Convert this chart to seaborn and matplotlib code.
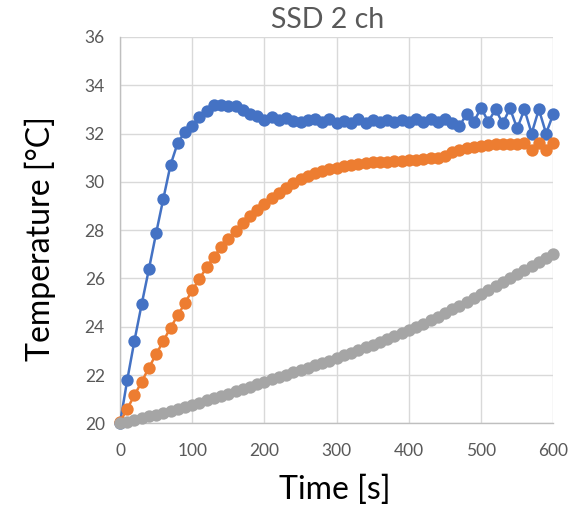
import numpy as np
import pandas as pd
import matplotlib
matplotlib.use("Agg")
import matplotlib.pyplot as plt
import seaborn as sns

time_s = list(range(0, 601, 10))

ch_blue = [20.00, 21.79, 23.42, 24.93, 26.38, 27.87, 29.30, 30.70, 31.62, 32.07,
           32.32, 32.68, 32.93, 33.18, 33.18, 33.14, 33.14, 32.98, 32.82, 32.72,
           32.57, 32.68, 32.56, 32.66, 32.53, 32.49, 32.55, 32.58, 32.46, 32.58,
           32.43, 32.53, 32.43, 32.58, 32.44, 32.55, 32.47, 32.57, 32.47, 32.57,
           32.47, 32.58, 32.48, 32.58, 32.48, 32.58, 32.42, 32.30, 32.81, 32.49,
           33.06, 32.49, 33.00, 32.42, 33.04, 32.21, 33.00, 32.00, 33.00, 32.00,
           32.81]

ch_orange = [20.05, 20.60, 21.16, 21.72, 22.30, 22.86, 23.41, 23.96, 24.47, 24.98,
             25.51, 25.98, 26.46, 26.89, 27.30, 27.64, 27.98, 28.31, 28.60, 28.85,
             29.08, 29.33, 29.55, 29.75, 29.93, 30.10, 30.23, 30.35, 30.43, 30.51,
             30.59, 30.65, 30.70, 30.74, 30.77, 30.80, 30.82, 30.84, 30.86, 30.88,
             30.90, 30.92, 30.95, 30.97, 31.00, 31.05, 31.25, 31.33, 31.40, 31.45,
             31.50, 31.53, 31.55, 31.57, 31.58, 31.55, 31.60, 31.30, 31.60, 31.30,
             31.60]

ch_gray = [20.00, 20.07, 20.14, 20.21, 20.29, 20.36, 20.44, 20.52, 20.60, 20.68,
           20.77, 20.86, 20.95, 21.04, 21.13, 21.23, 21.33, 21.42, 21.52, 21.62,
           21.72, 21.82, 21.91, 22.01, 22.11, 22.21, 22.30, 22.40, 22.50, 22.60,
           22.70, 22.81, 22.92, 23.03, 23.14, 23.26, 23.37, 23.49, 23.61, 23.73,
           23.86, 23.99, 24.13, 24.27, 24.42, 24.57, 24.72, 24.87, 25.03, 25.19,
           25.35, 25.51, 25.67, 25.84, 26.00, 26.17, 26.34, 26.50, 26.67, 26.83,
           27.00]

x_ticks = [0, 100, 200, 300, 400, 500, 600]
y_ticks = [20, 22, 24, 26, 28, 30, 32, 34, 36]

title = "SSD 2 ch"
x_label = "Time [s]"
y_label = "Temperature [°C]"

sns.set_style("white")
plt.rcParams['font.family'] = ['Lato', 'DejaVu Sans']

fig = plt.figure(figsize=(5.87, 5.15), dpi=100)
ax = fig.add_axes([120 / 587, 1 - 423.3 / 515, 433.3 / 587, 386.4 / 515])

series = [(ch_blue, "#4472C4"), (ch_orange, "#ED7D31"), (ch_gray, "#A5A5A5")]
for vals, col in series:
    sns.lineplot(x=time_s, y=vals, ax=ax, color=col, marker='o', markersize=8.9,
                 markeredgewidth=0, linewidth=1.8, clip_on=False, zorder=3)

ax.set_xlim(0, 600)
ax.set_ylim(20, 36)
ax.set_xticks(x_ticks)
ax.set_yticks(y_ticks)
ax.set_xticklabels([str(v) for v in x_ticks])
ax.set_yticklabels([str(v) for v in y_ticks])
ax.grid(True, color="#D9D9D9", linewidth=1.0)
ax.set_axisbelow(True)
for s in ['top', 'right']:
    ax.spines[s].set_visible(False)
for s in ['left', 'bottom']:
    ax.spines[s].set_color("#BFBFBF")
    ax.spines[s].set_linewidth(1.0)
    ax.spines[s].set_zorder(2)
ax.tick_params(axis='both', length=0, labelsize=12.5, labelcolor="#595959")
ax.tick_params(axis='x', pad=14)
ax.tick_params(axis='y', pad=11)

ax.set_xlabel(x_label, fontsize=23, color="black")
ax.set_ylabel(y_label, fontsize=23, color="black")
ax.xaxis.label.set_va('center')
ax.yaxis.label.set_va('center')
ax.xaxis.set_label_coords((335 - 120) / 433.3, (423.3 - 490) / 386.4)
ax.yaxis.set_label_coords((40 - 120) / 433.3, (423.3 - 238.6) / 386.4)
fig.text(328 / 587, 1 - 20 / 515, title, ha='center', va='center',
         fontsize=20.5, color="#595959")

fig.savefig("out.png", dpi=100)
